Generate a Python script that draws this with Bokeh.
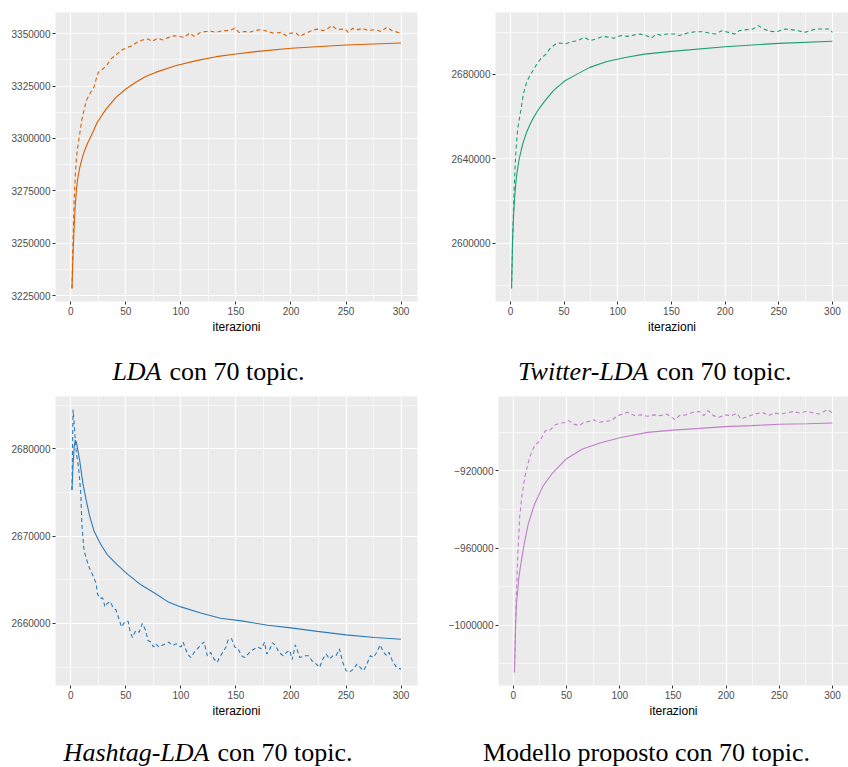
from bokeh.plotting import figure
from bokeh.layouts import row, column
from bokeh.models import Range1d, FixedTicker, Label, BasicTickFormatter
from bokeh.embed import file_html
from bokeh.resources import INLINE

# ---------------- data ----------------
iter_ticks = [0, 50, 100, 150, 200, 250, 300]
iter_minor = [-25, 25, 75, 125, 175, 225, 275, 325]

# LDA con 70 topic
lda_solid_x = [1, 2, 3, 4, 5, 6, 8, 10, 12, 15, 20, 24, 32, 41, 50, 59, 68, 77, 95, 114, 132, 150, 168, 200, 250, 300]
lda_solid_y = [3228500, 3245000, 3258000, 3268000, 3275000, 3280000, 3286000, 3290000, 3293500, 3297500,
               3303000, 3307700, 3314000, 3319600, 3323600, 3326800, 3329500, 3331500, 3334700, 3337100,
               3339000, 3340300, 3341400, 3343000, 3344600, 3345500]
lda_dash_x = [1, 2, 3, 4, 5, 6, 8, 10, 14, 18, 21, 23, 25, 29, 33, 37, 42, 47, 52, 56,
              61, 66, 70, 74, 79, 83, 89, 94, 99, 103, 108, 112, 118, 123, 127, 132, 138, 144, 149, 153,
              158, 162, 167, 173, 179, 185, 191, 196, 200, 205, 208, 212, 217, 221, 226, 229, 233, 237, 242, 249,
              252, 256, 261, 265, 270, 276, 282, 287, 292, 297, 300]
lda_dash_y = [3228500, 3252000, 3270000, 3282000, 3290000, 3295000, 3302000, 3309000, 3318000, 3322000,
              3324400, 3328300, 3331500, 3333100, 3335200, 3338200, 3340300, 3342400, 3343500, 3344300,
              3346200, 3347100, 3347400, 3346300, 3347800, 3347000, 3348200, 3349000, 3348600, 3348200,
              3350300, 3348700, 3350600, 3351000, 3351100, 3350600, 3351400, 3351400, 3352600, 3350500,
              3351000, 3350600, 3351400, 3351900, 3351000, 3350100, 3350600, 3349000, 3350300, 3350100,
              3348600, 3349800, 3351000, 3351900, 3352200, 3351400, 3352200, 3353800, 3351900, 3352200,
              3350600, 3352500, 3351900, 3352500, 3351400, 3351900, 3351000, 3353000, 3351400, 3350600,
              3350500]
lda_yticks = [3225000, 3250000, 3275000, 3300000, 3325000, 3350000]
lda_yminor = [3212500, 3237500, 3262500, 3287500, 3312500, 3337500, 3362500]

# Twitter-LDA con 70 topic
tw_solid_x = [1, 2, 3, 4, 5, 6, 8, 10, 12, 15, 18, 21, 25, 31, 40, 50, 62, 74, 89, 107, 125, 150, 200, 250, 300]
tw_solid_y = [2578500, 2603000, 2614000, 2622500, 2628500, 2633000, 2639500, 2644000, 2648000, 2652500,
              2656000, 2659000, 2662500, 2666700, 2672300, 2676700, 2680100, 2683300, 2686000, 2688000,
              2689600, 2690900, 2693100, 2694700, 2695700]
tw_dash_x = [1, 2, 3, 4, 5, 6, 7, 9, 12, 15, 18, 21, 24, 28, 33, 37, 42, 46, 51, 57,
             63, 69, 74, 80, 86, 92, 96, 103, 109, 115, 121, 127, 131, 136, 140, 146, 153, 157, 165, 172,
             179, 185, 191, 197, 203, 209, 213, 220, 226, 231, 236, 242, 248, 256, 262, 268, 274, 279, 285, 291,
             297, 300]
tw_dash_y = [2578500, 2600000, 2619000, 2633000, 2643000, 2650000, 2655000, 2661000, 2670650, 2676200,
             2679400, 2681800, 2684400, 2687300, 2689600, 2692300, 2694400, 2694900, 2694400, 2695500,
             2696000, 2697600, 2696000, 2696800, 2698000, 2697600, 2697100, 2698400, 2698000, 2698600,
             2699100, 2698300, 2697100, 2699100, 2698600, 2699100, 2699100, 2698400, 2699600, 2700200,
             2700200, 2699600, 2699100, 2700700, 2699900, 2699100, 2700700, 2701200, 2701500, 2703100,
             2701500, 2700400, 2700200, 2701500, 2701200, 2700700, 2699900, 2700700, 2701500, 2701500,
             2701500, 2699900]
tw_yticks = [2600000, 2640000, 2680000]
tw_yminor = [2580000, 2620000, 2660000, 2700000]

# Hashtag-LDA con 70 topic
ht_solid_x = [1, 2, 3, 4, 5, 8, 11, 14, 17, 21, 27, 33, 42, 52, 64, 76, 88, 100, 118, 136, 155, 179, 200, 224, 250, 276, 300]
ht_solid_y = [2675300, 2678200, 2680200, 2681000, 2680800, 2678700, 2676000, 2674100, 2672350, 2670600,
              2669100, 2667900, 2666750, 2665600, 2664400, 2663500, 2662500, 2661900, 2661200, 2660600,
              2660300, 2659800, 2659500, 2659100, 2658700, 2658400, 2658200]
ht_dash_x = [1, 2, 3, 4, 5, 7, 9, 10, 12, 14, 16, 20, 23, 24, 26, 29, 31, 33, 36, 38,
             41, 44, 46, 49, 52, 54, 56, 59, 62, 65, 68, 70, 73, 75, 77, 80, 83, 86, 89, 92,
             96, 100, 102, 106, 109, 112, 115, 118, 121, 124, 127, 130, 133, 135, 138, 141, 143, 146, 149, 152,
             155, 158, 161, 164, 167, 170, 173, 176, 178, 181, 183, 186, 189, 193, 196, 199, 201, 204, 208, 213,
             216, 219, 223, 226, 229, 232, 235, 238, 241, 244, 247, 250, 253, 257, 260, 263, 266, 269, 272, 275,
             278, 281, 284, 287, 289, 292, 296, 300]
ht_dash_y = [2675300, 2684500, 2683000, 2681000, 2679500, 2677900, 2675000, 2671400, 2668300, 2667500,
             2666600, 2665500, 2664600, 2663500, 2662900, 2662900, 2661900, 2662300, 2662500, 2661900,
             2661550, 2660400, 2659600, 2660200, 2660260, 2659000, 2658400, 2659200, 2659000, 2660000,
             2659200, 2658060, 2657860, 2657300, 2657670, 2657300, 2657500, 2657670, 2657860, 2657500,
             2657670, 2657300, 2657860, 2656500, 2656100, 2656700, 2657100, 2657500, 2657900, 2656300,
             2656700, 2655930, 2655550, 2656100, 2656700, 2657300, 2658180, 2658250, 2657300, 2657100,
             2656300, 2656100, 2656500, 2656900, 2657100, 2657300, 2657100, 2657860, 2656500, 2657100,
             2657780, 2657500, 2656700, 2656300, 2656700, 2656900, 2655850, 2657550, 2656100, 2656300,
             2656300, 2655740, 2655350, 2654950, 2655930, 2656500, 2655930, 2656300, 2656300, 2657100,
             2655550, 2654600, 2654400, 2654800, 2655350, 2654950, 2654600, 2655350, 2656300, 2656100,
             2656700, 2657550, 2656700, 2656300, 2656700, 2655740, 2654950, 2654770]
ht_yticks = [2660000, 2670000, 2680000]
ht_yminor = [2655000, 2665000, 2675000, 2685000]

# Modello proposto con 70 topic
mp_solid_x = [1, 2, 3, 4, 5, 7, 10, 14, 20, 28, 37, 50, 65, 83, 101, 126, 150, 175, 199, 224, 250, 276, 300]
mp_solid_y = [-1024400, -1003000, -988000, -983000, -976000, -968500, -958500, -947500, -937200, -927800,
              -921000, -913700, -908700, -905300, -902700, -900100, -898900, -898000, -897100, -896600,
              -895900, -895600, -895200]
mp_dash_x = [1, 2, 3, 4, 6, 8, 11, 14, 17, 20, 25, 30, 34, 39, 43, 49, 52, 57, 62, 66,
             71, 75, 80, 86, 92, 98, 103, 107, 114, 120, 126, 132, 138, 144, 152, 156, 162, 169, 175, 179,
             183, 188, 193, 199, 205, 210, 214, 221, 227, 234, 240, 245, 251, 257, 263, 269, 276, 282, 288, 295,
             300]
mp_dash_y = [-1024400, -998000, -981500, -966000, -943400, -933000, -922600, -915700, -910500, -907000,
             -904400, -899200, -899200, -896300, -895400, -894900, -894000, -895800, -896600, -895000,
             -894400, -893500, -894900, -894400, -894000, -891400, -890600, -889700, -891400, -891000,
             -891700, -891000, -891400, -890600, -893500, -891400, -891000, -889700, -889300, -891400,
             -888800, -891400, -892300, -891000, -891400, -890200, -893200, -891700, -890600, -889700,
             -891400, -890000, -890600, -890000, -889300, -890000, -889200, -890000, -890600, -888300,
             -890000]
mp_yticks = [-1000000, -960000, -920000]
mp_yminor = [-1020000, -980000, -940000, -900000]

# ---------------- styling helpers ----------------
BG = "#EBEBEB"
TICK_FONT = "Liberation Sans"
CAPTION_FONT = "'Liberation Serif', 'DejaVu Serif', serif"


def data_range(values, pad=0.05):
    lo, hi = min(values), max(values)
    d = (hi - lo) * pad
    return Range1d(lo - d, hi + d)


def panel(width, height, borders, color, sx, sy, dx, dy, yticks, yminor):
    left, right, top, bottom = borders
    allx = sx + dx
    ally = sy + dy
    p = figure(width=width, height=height, output_backend="svg", toolbar_location=None,
               x_range=data_range(allx), y_range=data_range(ally),
               min_border_left=left, min_border_right=right,
               min_border_top=top, min_border_bottom=bottom)
    p.background_fill_color = BG
    p.border_fill_color = "white"
    p.outline_line_color = None

    p.xaxis.ticker = FixedTicker(ticks=iter_ticks, minor_ticks=iter_minor)
    p.yaxis.ticker = FixedTicker(ticks=yticks, minor_ticks=yminor)
    p.yaxis.formatter = BasicTickFormatter(use_scientific=False)
    for ax in (p.xaxis, p.yaxis):
        ax.axis_line_color = None
        ax.major_tick_line_color = "#333333"
        ax.major_tick_out = 3
        ax.major_tick_in = 0
        ax.minor_tick_out = 0
        ax.minor_tick_in = 0
        ax.major_label_text_font = TICK_FONT
        ax.major_label_text_font_size = "10px"
        ax.major_label_text_color = "#4D4D4D"
        ax.major_label_standoff = 2
    p.xaxis.axis_label = "iterazioni"
    p.xaxis.axis_label_text_font = TICK_FONT
    p.xaxis.axis_label_text_font_size = "12px"
    p.xaxis.axis_label_text_font_style = "normal"
    p.xaxis.axis_label_text_color = "black"
    p.xaxis.axis_label_standoff = 2

    for g in p.grid:
        g.grid_line_color = "white"
        g.grid_line_width = 1.2
        g.minor_grid_line_color = "white"
        g.minor_grid_line_width = 0.6

    p.line(sx, sy, line_color=color, line_width=1.1)
    p.line(dx, dy, line_color=color, line_width=1.1, line_dash="4 3")
    return p


def caption_fig(width, height, pieces):
    c = figure(width=width, height=height, output_backend="svg", toolbar_location=None,
               x_range=Range1d(0, width), y_range=Range1d(0, height),
               x_axis_type=None, y_axis_type=None, min_border=0)
    c.outline_line_color = None
    c.grid.visible = False
    c.background_fill_color = "white"
    for (x, y, txt, style, align) in pieces:
        c.add_layout(Label(x=x, y=y, text=txt, text_font=CAPTION_FONT, text_font_size="26px",
                           text_font_style=style, text_align=align, text_baseline="middle",
                           text_color="black"))
    return c


p1 = panel(424, 340, (55, 7, 12, 38), "#D95F02", lda_solid_x, lda_solid_y, lda_dash_x, lda_dash_y,
           lda_yticks, lda_yminor)
p2 = panel(424, 340, (71, 0, 12, 39), "#1B9E77", tw_solid_x, tw_solid_y, tw_dash_x, tw_dash_y,
           tw_yticks, tw_yminor)
p3 = panel(424, 330, (55, 7, 6, 35), "#2B7BBA", ht_solid_x, ht_solid_y, ht_dash_x, ht_dash_y,
           ht_yticks, ht_yminor)
p4 = panel(424, 330, (74, 0, 6, 35), "#C27DCB", mp_solid_x, mp_solid_y, mp_dash_x, mp_dash_y,
           mp_yticks, mp_yminor)

cap1 = caption_fig(848, 50, [
    (161, 19, "LDA", "italic", "right"),
    (169, 19, "con 70 topic.", "normal", "left"),
    (648, 19, "Twitter-LDA", "italic", "right"),
    (656, 19, "con 70 topic.", "normal", "left"),
])
cap2 = caption_fig(848, 47, [
    (209, 15, "Hashtag-LDA", "italic", "right"),
    (217, 15, "con 70 topic.", "normal", "left"),
    (646, 15, "Modello proposto con 70 topic.", "normal", "center"),
])

layout = column(row(p1, p2), cap1, row(p3, p4), cap2)

open("out.html", "w").write(file_html(layout, INLINE))
